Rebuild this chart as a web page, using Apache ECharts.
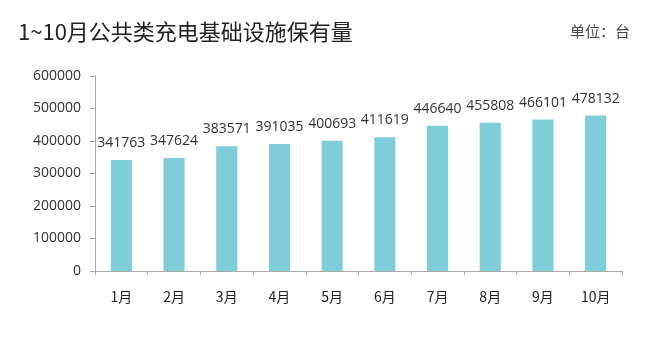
<!DOCTYPE html>
<html><head><meta charset="utf-8">
<script src="https://cdn.jsdelivr.net/npm/echarts@6/dist/echarts.min.js"></script>
<style>html,body{margin:0;padding:0;background:#fff}#c{width:653px;height:351px}</style>
</head><body><div id="c"></div>
<script>
const categories = ['1月','2月','3月','4月','5月','6月','7月','8月','9月','10月'];
const values = [341763,347624,383571,391035,400693,411619,446640,455808,466101,478132];
const yTicks = {min:0, max:600000, interval:100000};
const chart = echarts.init(document.getElementById('c'));
chart.setOption({
  animation:false,
  backgroundColor:'#fff',
  title:[
    {text:'1~10月公共类充电基础设施保有量', left:18, top:21, padding:0, textStyle:{fontFamily:'Noto Sans CJK SC', fontSize:22, fontWeight:'normal', color:'#222'}},
    {text:'单位：台', left:570, top:24, padding:0, textStyle:{fontFamily:'Noto Sans CJK SC', fontSize:15, fontWeight:'normal', color:'#444'}}
  ],
  grid:{left:95, right:31, top:76, bottom:80},
  xAxis:{type:'category', data:categories,
    axisLine:{lineStyle:{color:'#aaa'}},
    axisTick:{show:true, alignWithLabel:false, length:4, lineStyle:{color:'#aaa'}},
    axisLabel:{margin:19, fontSize:14, color:'#222', fontFamily:'Noto Sans CJK SC'}},
  yAxis:{type:'value', min:yTicks.min, max:yTicks.max, interval:yTicks.interval,
    axisLine:{show:true, lineStyle:{color:'#aaa'}},
    axisTick:{show:true, length:5, lineStyle:{color:'#aaa'}},
    splitLine:{show:false},
    axisLabel:{margin:14, fontSize:14, color:'#333', fontFamily:'Open Sans', formatter:v=>String(v)}},
  series:[{type:'bar', data:values, barWidth:'40%',
    itemStyle:{color:'#7ecdd8'},
    label:{show:true, position:'top', distance:10, fontSize:14, color:'#333', fontFamily:'Open Sans'}}]
});
</script></body></html>
